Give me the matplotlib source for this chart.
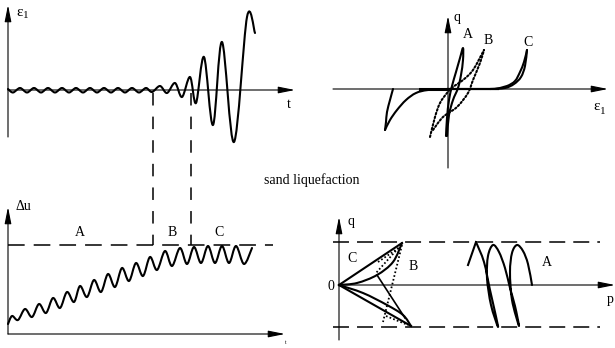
import numpy as np
import matplotlib
matplotlib.use("Agg")
import matplotlib.pyplot as plt
from matplotlib.path import Path
from matplotlib.patches import PathPatch

plt.rcParams['font.family'] = ['Liberation Serif', 'DejaVu Serif']
plt.rcParams['lines.scale_dashes'] = False

# ---- data, each panel in its own units (origin = crossing of the axes) ----
# top left: strain eps1 against time, turning points of the oscillation
tl_t = [0, 5, 12, 19, 26, 33, 40, 47, 54, 61, 68, 75, 82, 89, 96, 103, 110, 117,
        124, 131, 138, 144, 152, 159, 167, 174, 182, 188, 196, 205, 214, 226, 239, 247]
tl_eps = [1, -2.5, 2, -2.5, 2, -2.5, 2, -2.5, 2, -2.5, 2, -2.5, 2, -2.5, 2, -2.5, 2, -2.5,
          2, -2.5, 2, -2, 4, -3, 7, -7, 13, -13, 33, -35, 48, -52, 73, 57]
tl_phase_t = [145, 183]          # limits of the phases A | B | C

# bottom left: excess pore pressure against time
bl_t = [0, 4, 10, 17, 24, 31, 38, 45, 52, 59, 66, 72, 79, 86, 93, 100, 107, 114,
        121, 128, 135, 142, 149, 157, 164, 172, 179, 186, 193, 200, 207, 214, 221, 228, 236, 244]
bl_du = [10, 18, 14, 25, 17, 30, 21, 36, 26, 42, 32, 48, 37, 54, 42, 60, 47, 66,
         53, 71, 58, 77, 64, 83, 68, 86, 70, 87, 71, 88, 71, 88, 71, 88, 70, 86]
bl_level = 89
bl_labels = ["A", "B", "C"]

# top right: q against eps1
tr_a_eps = [-2, -1, 1, 4, 8, 12, 15, 15, 13, 10, 5, 1, -1]
tr_a_q = [-47, -29, -11, 3, 17, 31, 41, 29, 14, 1, -11, -26, -47]
tr_b1_eps = [-18, -13, -8, -1, 5, 15, 25, 36]
tr_b1_q = [-48, -28, -14, -4, 2, 9, 19, 39]
tr_b2_eps = [-15, -5, 9, 20, 25, 32, 36]
tr_b2_q = [-41, -28, -18, -4, 9, 26, 39]
tr_c1_eps = [-55, -58, -61, -62, -63]
tr_c1_q = [0, -11, -23, -33, -41]
tr_c2_eps = [-63, -58, -51, -42, -32, -20, 0]
tr_c2_q = [-41, -31, -21, -11, -4, -1, 0]
tr_c3_eps = [42, 57, 66, 73, 77, 79]
tr_c3_q = [0, 1, 5, 12, 23, 39]
tr_c4_eps = [47, 59, 67, 72, 76, 79]
tr_c4_q = [0, 3, 8, 17, 27, 39]

# bottom right: q against p
br_qmax = 43
br_qmin = -42
br_up_line_p = [0, 63]
br_up_line_q = [0, 42]
br_up_curve_p = [0, 18, 38, 54, 63]
br_up_curve_q = [0, 2, 10, 23, 42]
br_mid_p = [38, 66]
br_mid_q = [10, -33]
br_lo_line_p = [0, 72]
br_lo_line_q = [0, -41]
br_lo_curve_p = [0, 24, 48, 64, 72]
br_lo_curve_q = [0, -8, -20, -30, -41]
br_dots_p = [[62, 37], [63, 44], [39, 61], [47, 69]]
br_dots_q = [[40, 12], [40, -37], [23, 38], [-31, -40]]
br_a_start_p = [129, 137]
br_a_start_q = [20, 43]
br_a_p = [137, 145, 151, 156, 159, 152, 148, 149, 154, 160, 166, 171, 176, 180,
          173, 171, 173, 178, 184, 189, 193]
br_a_q = [43, 23, -5, -27, -42, -20, 7, 29, 40, 33, 17, -3, -21, -41,
          -15, 13, 32, 40, 34, 21, 0]

W, H = 615, 348
fig = plt.figure(figsize=(W / 100, H / 100), dpi=100)
fig.patch.set_facecolor("white")

LW = 1.5
AX_LW = 0.8


def panel(x0, x1, y0, y1, ox, oy):
    ax = fig.add_axes([x0 / W, 1 - y1 / H, (x1 - x0) / W, (y1 - y0) / H])
    ax.set_xlim(x0 - ox, x1 - ox)
    ax.set_ylim(oy - y1, oy - y0)
    ax.axis("off")
    return ax


def smooth(ax, x, y, lw=LW, ls="-"):
    # catmull-rom through the given points, drawn as bezier path
    pts = np.column_stack([x, y]).astype(float)
    n = len(pts)
    verts = [pts[0]]
    codes = [Path.MOVETO]
    for i in range(n - 1):
        p0 = pts[max(i - 1, 0)]
        p1 = pts[i]
        p2 = pts[i + 1]
        p3 = pts[min(i + 2, n - 1)]
        verts += [p1 + (p2 - p0) / 6, p2 - (p3 - p1) / 6, p2]
        codes += [Path.CURVE4] * 3
    ax.add_patch(PathPatch(Path(verts, codes), fill=False, lw=lw, ls=ls,
                           ec="black", clip_on=False, capstyle="round", joinstyle="round"))


def arrow(ax, x0, y0, x1, y1):
    ax.annotate("", xy=(x1, y1), xytext=(x0, y0), annotation_clip=False,
                arrowprops=dict(arrowstyle="-|>,head_length=1.0,head_width=0.2",
                                mutation_scale=10, lw=AX_LW, color="black",
                                shrinkA=0, shrinkB=0))


def label(ax, x, y, s, size=10, ha="center"):
    ax.text(x, y, s, fontsize=size, ha=ha, va="center", clip_on=False)


def eps_label(ax, x, y):
    # upright epsilon with a small subscript 1
    ax.text(x, y, "\u03b5", fontsize=11, ha="left", va="center", clip_on=False)
    ax.text(x + 7, y - 4, "1", fontsize=8, ha="left", va="center", clip_on=False)


DOT = (0, (1.2, 1.6))

# top left
ax1 = panel(0, 305, 0, 175, 8, 90)
arrow(ax1, 0, -47, 0, 85)
arrow(ax1, 0, 0, 287, 0)
smooth(ax1, tl_t, tl_eps)
eps_label(ax1, 8, 78)
label(ax1, 281, -15, "t")

# bottom left
ax2 = panel(0, 305, 175, 348, 8, 334)
arrow(ax2, 0, 0, 0, 127)
arrow(ax2, 0, 0, 277, 0)
ax2.plot([0, 265], [bl_level, bl_level], color="black", lw=1.1, dashes=[12, 6.5])
for tp in tl_phase_t:
    ax2.plot([tp, tp], [241, bl_level], color="black", lw=1.1, dashes=[9, 8], clip_on=False)
smooth(ax2, bl_t, bl_du)
label(ax2, 7, 127, "\u0394u", size=10, ha="left")
for lx, s in zip([72, 164, 211], bl_labels):
    label(ax2, lx, 102, s)
label(ax2, 278, -9, "t", size=4)

fig.text(312 / W, 1 - 180 / H, "sand liquefaction", fontsize=10, ha="center", va="center")

# top right
ax3 = panel(315, 615, 0, 175, 448, 89)
arrow(ax3, -115, 0, 160, 0)
arrow(ax3, 0, -79, 0, 73)
ax3.plot([-28, 0], [0, 0], color="black", lw=2.2)
ax3.plot([0, 50], [0, 0], color="black", lw=1.6)
smooth(ax3, tr_a_eps, tr_a_q)
smooth(ax3, tr_b1_eps, tr_b1_q, ls=DOT)
smooth(ax3, tr_b2_eps, tr_b2_q, ls=DOT)
smooth(ax3, tr_c1_eps, tr_c1_q)
smooth(ax3, tr_c2_eps, tr_c2_q)
smooth(ax3, tr_c3_eps, tr_c3_q)
smooth(ax3, tr_c4_eps, tr_c4_q)
label(ax3, 5, 71, "q", ha="left")
label(ax3, 20, 54, "A")
label(ax3, 40, 49, "B")
label(ax3, 80, 47, "C")
eps_label(ax3, 145, -18)

# bottom right
ax4 = panel(315, 615, 200, 348, 339, 285)
arrow(ax4, 0, 0, 276, 0)
arrow(ax4, 0, -55, 0, 68)
for qv in [br_qmax, br_qmin]:
    ax4.plot([-6, 261], [qv, qv], color="black", lw=1.1, dashes=[11.5, 5.8])
ax4.plot(br_up_line_p, br_up_line_q, color="black", lw=LW)
ax4.plot(br_mid_p, br_mid_q, color="black", lw=LW * 0.8)
ax4.plot(br_lo_line_p, br_lo_line_q, color="black", lw=LW)
smooth(ax4, br_up_curve_p, br_up_curve_q)
smooth(ax4, br_lo_curve_p, br_lo_curve_q)
for dp, dq in zip(br_dots_p, br_dots_q):
    ax4.plot(dp, dq, color="black", lw=1.3, ls=DOT)
ax4.plot(br_a_start_p, br_a_start_q, color="black", lw=LW)
smooth(ax4, br_a_p, br_a_q)
label(ax4, 8, 63, "q", ha="left")
label(ax4, -8, -1, "0")
label(ax4, 13, 27, "C")
label(ax4, 74, 18, "B")
label(ax4, 208, 23, "A")
label(ax4, 268, -15, "p", ha="left")

fig.savefig("out.png", dpi=100, facecolor="white")
